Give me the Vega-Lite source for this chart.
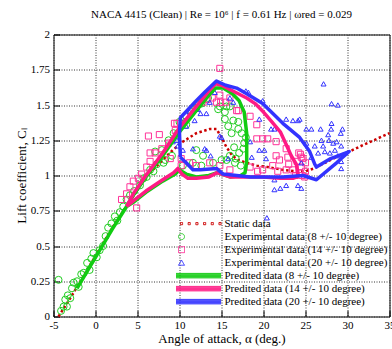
{
  "$schema": "https://vega.github.io/schema/vega-lite/v6.json",
  "width": 336,
  "height": 282,
  "autosize": {"type": "none"},
  "padding": {"left": 53.5, "top": 34.5, "right": 2.5, "bottom": 32.5},
  "background": "white",
  "title": {"text": "NACA 4415 (Clean) | Re = 10⁶ | f = 0.61 Hz | ωred = 0.029", "font": "Liberation Serif", "fontSize": 11, "fontWeight": "normal", "color": "black", "offset": 9, "anchor": "middle"},
  "config": {
    "view": {"stroke": "black", "strokeWidth": 1},
    "axis": {"labelFont": "Liberation Serif", "titleFont": "Liberation Serif", "labelFontSize": 11, "titleFontSize": 13, "titleFontWeight": "normal", "labelColor": "black", "titleColor": "black", "domain": false, "gridColor": "#333333", "gridDash": [1, 1.5], "gridOpacity": 1, "gridWidth": 1, "tickColor": "black", "tickWidth": 1}
  },
  "datasets": {
    "static": [
      {"s": "Static data", "a": -4.4, "cl": 0}, {"s": "Static data", "a": -3, "cl": 0.13}, {"s": "Static data", "a": -2, "cl": 0.23}, {"s": "Static data", "a": 0, "cl": 0.43}, {"s": "Static data", "a": 2, "cl": 0.63}, {"s": "Static data", "a": 4, "cl": 0.81}, {"s": "Static data", "a": 6, "cl": 0.99}, {"s": "Static data", "a": 8, "cl": 1.11}, {"s": "Static data", "a": 9.2, "cl": 1.18}, {"s": "Static data", "a": 10.4, "cl": 1.24}, {"s": "Static data", "a": 12, "cl": 1.3}, {"s": "Static data", "a": 13.6, "cl": 1.33}, {"s": "Static data", "a": 14.4, "cl": 1.33}, {"s": "Static data", "a": 15, "cl": 1.27}, {"s": "Static data", "a": 15.6, "cl": 1.2}, {"s": "Static data", "a": 16.3, "cl": 1.14}, {"s": "Static data", "a": 17, "cl": 1.11}, {"s": "Static data", "a": 18, "cl": 1.09}, {"s": "Static data", "a": 19.2, "cl": 1.07}, {"s": "Static data", "a": 20.5, "cl": 1.06}, {"s": "Static data", "a": 22.3, "cl": 1.04}, {"s": "Static data", "a": 24, "cl": 1.03}, {"s": "Static data", "a": 25, "cl": 1.03}, {"s": "Static data", "a": 26, "cl": 1.05}, {"s": "Static data", "a": 27, "cl": 1.08}, {"s": "Static data", "a": 28, "cl": 1.11}, {"s": "Static data", "a": 29, "cl": 1.14}, {"s": "Static data", "a": 30.4, "cl": 1.175}, {"s": "Static data", "a": 32, "cl": 1.22}, {"s": "Static data", "a": 33.5, "cl": 1.26}, {"s": "Static data", "a": 35, "cl": 1.3}
    ],
    "pred": [
      {"s": "Predited data (8 +/- 10 degree)", "i": 1, "a": -2.2, "cl": 0.2}, {"s": "Predited data (8 +/- 10 degree)", "i": 2, "a": 0, "cl": 0.42}, {"s": "Predited data (8 +/- 10 degree)", "i": 3, "a": 2, "cl": 0.62}, {"s": "Predited data (8 +/- 10 degree)", "i": 4, "a": 3.7, "cl": 0.78}, {"s": "Predited data (8 +/- 10 degree)", "i": 5, "a": 4.5, "cl": 0.86}, {"s": "Predited data (8 +/- 10 degree)", "i": 6, "a": 6, "cl": 0.99}, {"s": "Predited data (8 +/- 10 degree)", "i": 7, "a": 8, "cl": 1.14}, {"s": "Predited data (8 +/- 10 degree)", "i": 8, "a": 10, "cl": 1.31}, {"s": "Predited data (8 +/- 10 degree)", "i": 9, "a": 12, "cl": 1.46}, {"s": "Predited data (8 +/- 10 degree)", "i": 10, "a": 13.5, "cl": 1.57}, {"s": "Predited data (8 +/- 10 degree)", "i": 11, "a": 14.3, "cl": 1.62}, {"s": "Predited data (8 +/- 10 degree)", "i": 12, "a": 15.2, "cl": 1.62}, {"s": "Predited data (8 +/- 10 degree)", "i": 13, "a": 16.3, "cl": 1.58}, {"s": "Predited data (8 +/- 10 degree)", "i": 14, "a": 17.1, "cl": 1.53}, {"s": "Predited data (8 +/- 10 degree)", "i": 15, "a": 17.7, "cl": 1.45}, {"s": "Predited data (8 +/- 10 degree)", "i": 16, "a": 18, "cl": 1.3}, {"s": "Predited data (8 +/- 10 degree)", "i": 17, "a": 18, "cl": 1.1}, {"s": "Predited data (8 +/- 10 degree)", "i": 18, "a": 17.8, "cl": 1.02}, {"s": "Predited data (8 +/- 10 degree)", "i": 19, "a": 17.3, "cl": 1.0}, {"s": "Predited data (8 +/- 10 degree)", "i": 20, "a": 16, "cl": 0.99}, {"s": "Predited data (8 +/- 10 degree)", "i": 21, "a": 14.5, "cl": 1.02}, {"s": "Predited data (8 +/- 10 degree)", "i": 22, "a": 13.5, "cl": 1.0}, {"s": "Predited data (8 +/- 10 degree)", "i": 23, "a": 12, "cl": 0.99}, {"s": "Predited data (8 +/- 10 degree)", "i": 24, "a": 10.8, "cl": 1.01}, {"s": "Predited data (8 +/- 10 degree)", "i": 25, "a": 10, "cl": 1.04}, {"s": "Predited data (8 +/- 10 degree)", "i": 26, "a": 9.5, "cl": 1.01}, {"s": "Predited data (8 +/- 10 degree)", "i": 27, "a": 8, "cl": 0.96}, {"s": "Predited data (8 +/- 10 degree)", "i": 28, "a": 6, "cl": 0.88}, {"s": "Predited data (8 +/- 10 degree)", "i": 29, "a": 4.5, "cl": 0.81}, {"s": "Predited data (8 +/- 10 degree)", "i": 30, "a": 3.7, "cl": 0.78}, {"s": "Predited data (8 +/- 10 degree)", "i": 31, "a": 2, "cl": 0.62}, {"s": "Predited data (8 +/- 10 degree)", "i": 32, "a": 0, "cl": 0.42}, {"s": "Predited data (8 +/- 10 degree)", "i": 33, "a": -2.2, "cl": 0.2},
      {"s": "Predited data (14 +/- 10 degree)", "i": 1, "a": 3.7, "cl": 0.78}, {"s": "Predited data (14 +/- 10 degree)", "i": 2, "a": 4.5, "cl": 0.87}, {"s": "Predited data (14 +/- 10 degree)", "i": 3, "a": 6, "cl": 1.0}, {"s": "Predited data (14 +/- 10 degree)", "i": 4, "a": 8, "cl": 1.16}, {"s": "Predited data (14 +/- 10 degree)", "i": 5, "a": 10, "cl": 1.34}, {"s": "Predited data (14 +/- 10 degree)", "i": 6, "a": 12, "cl": 1.49}, {"s": "Predited data (14 +/- 10 degree)", "i": 7, "a": 13.5, "cl": 1.6}, {"s": "Predited data (14 +/- 10 degree)", "i": 8, "a": 14.3, "cl": 1.65}, {"s": "Predited data (14 +/- 10 degree)", "i": 9, "a": 15, "cl": 1.64}, {"s": "Predited data (14 +/- 10 degree)", "i": 10, "a": 16, "cl": 1.61}, {"s": "Predited data (14 +/- 10 degree)", "i": 11, "a": 17, "cl": 1.58}, {"s": "Predited data (14 +/- 10 degree)", "i": 12, "a": 18, "cl": 1.55}, {"s": "Predited data (14 +/- 10 degree)", "i": 13, "a": 19, "cl": 1.51}, {"s": "Predited data (14 +/- 10 degree)", "i": 14, "a": 20, "cl": 1.45}, {"s": "Predited data (14 +/- 10 degree)", "i": 15, "a": 21, "cl": 1.38}, {"s": "Predited data (14 +/- 10 degree)", "i": 16, "a": 22, "cl": 1.31}, {"s": "Predited data (14 +/- 10 degree)", "i": 17, "a": 22.7, "cl": 1.22}, {"s": "Predited data (14 +/- 10 degree)", "i": 18, "a": 23.3, "cl": 1.14}, {"s": "Predited data (14 +/- 10 degree)", "i": 19, "a": 23.9, "cl": 1.08}, {"s": "Predited data (14 +/- 10 degree)", "i": 20, "a": 24.1, "cl": 1.02}, {"s": "Predited data (14 +/- 10 degree)", "i": 21, "a": 24, "cl": 0.99}, {"s": "Predited data (14 +/- 10 degree)", "i": 22, "a": 23.5, "cl": 0.98}, {"s": "Predited data (14 +/- 10 degree)", "i": 23, "a": 22, "cl": 0.98}, {"s": "Predited data (14 +/- 10 degree)", "i": 24, "a": 20, "cl": 0.99}, {"s": "Predited data (14 +/- 10 degree)", "i": 25, "a": 18, "cl": 0.99}, {"s": "Predited data (14 +/- 10 degree)", "i": 26, "a": 16, "cl": 0.99}, {"s": "Predited data (14 +/- 10 degree)", "i": 27, "a": 14.5, "cl": 1.02}, {"s": "Predited data (14 +/- 10 degree)", "i": 28, "a": 13.5, "cl": 0.99}, {"s": "Predited data (14 +/- 10 degree)", "i": 29, "a": 12, "cl": 0.98}, {"s": "Predited data (14 +/- 10 degree)", "i": 30, "a": 11, "cl": 0.98}, {"s": "Predited data (14 +/- 10 degree)", "i": 31, "a": 10.3, "cl": 1.01}, {"s": "Predited data (14 +/- 10 degree)", "i": 32, "a": 9.8, "cl": 1.05}, {"s": "Predited data (14 +/- 10 degree)", "i": 33, "a": 9.3, "cl": 1.02}, {"s": "Predited data (14 +/- 10 degree)", "i": 34, "a": 8, "cl": 0.97}, {"s": "Predited data (14 +/- 10 degree)", "i": 35, "a": 6, "cl": 0.89}, {"s": "Predited data (14 +/- 10 degree)", "i": 36, "a": 4.5, "cl": 0.82}, {"s": "Predited data (14 +/- 10 degree)", "i": 37, "a": 3.7, "cl": 0.78},
      {"s": "Predited data (20 +/- 10 degree)", "i": 1, "a": 10.1, "cl": 1.13}, {"s": "Predited data (20 +/- 10 degree)", "i": 2, "a": 10.8, "cl": 1.09}, {"s": "Predited data (20 +/- 10 degree)", "i": 3, "a": 11.6, "cl": 1.04}, {"s": "Predited data (20 +/- 10 degree)", "i": 4, "a": 12.5, "cl": 1.04}, {"s": "Predited data (20 +/- 10 degree)", "i": 5, "a": 14.4, "cl": 1.05}, {"s": "Predited data (20 +/- 10 degree)", "i": 6, "a": 15.2, "cl": 1.01}, {"s": "Predited data (20 +/- 10 degree)", "i": 7, "a": 18.4, "cl": 0.99}, {"s": "Predited data (20 +/- 10 degree)", "i": 8, "a": 22.3, "cl": 0.99}, {"s": "Predited data (20 +/- 10 degree)", "i": 9, "a": 24.7, "cl": 1.0}, {"s": "Predited data (20 +/- 10 degree)", "i": 10, "a": 26.3, "cl": 0.97}, {"s": "Predited data (20 +/- 10 degree)", "i": 11, "a": 28.7, "cl": 1.09}, {"s": "Predited data (20 +/- 10 degree)", "i": 12, "a": 30.2, "cl": 1.17}, {"s": "Predited data (20 +/- 10 degree)", "i": 13, "a": 28, "cl": 1.12}, {"s": "Predited data (20 +/- 10 degree)", "i": 14, "a": 26.3, "cl": 1.06}, {"s": "Predited data (20 +/- 10 degree)", "i": 15, "a": 26.1, "cl": 1.08}, {"s": "Predited data (20 +/- 10 degree)", "i": 16, "a": 25.5, "cl": 1.17}, {"s": "Predited data (20 +/- 10 degree)", "i": 17, "a": 24.3, "cl": 1.27}, {"s": "Predited data (20 +/- 10 degree)", "i": 18, "a": 22.3, "cl": 1.37}, {"s": "Predited data (20 +/- 10 degree)", "i": 19, "a": 19.9, "cl": 1.51}, {"s": "Predited data (20 +/- 10 degree)", "i": 20, "a": 18, "cl": 1.58}, {"s": "Predited data (20 +/- 10 degree)", "i": 21, "a": 16.8, "cl": 1.62}, {"s": "Predited data (20 +/- 10 degree)", "i": 22, "a": 15.5, "cl": 1.64}, {"s": "Predited data (20 +/- 10 degree)", "i": 23, "a": 14.4, "cl": 1.67}, {"s": "Predited data (20 +/- 10 degree)", "i": 24, "a": 13, "cl": 1.59}, {"s": "Predited data (20 +/- 10 degree)", "i": 25, "a": 12, "cl": 1.53}, {"s": "Predited data (20 +/- 10 degree)", "i": 26, "a": 10.1, "cl": 1.41}, {"s": "Predited data (20 +/- 10 degree)", "i": 27, "a": 10, "cl": 1.3}, {"s": "Predited data (20 +/- 10 degree)", "i": 28, "a": 10.1, "cl": 1.13}
    ],
    "exp": [
      {"s": "Experimental data (8 +/- 10 degree)", "a": -4.4, "cl": 0.26}, {"s": "Experimental data (8 +/- 10 degree)", "a": -4.1, "cl": 0.04}, {"s": "Experimental data (8 +/- 10 degree)", "a": -3.8, "cl": 0.07}, {"s": "Experimental data (8 +/- 10 degree)", "a": -3.6, "cl": 0.12}, {"s": "Experimental data (8 +/- 10 degree)", "a": -3.4, "cl": 0.07}, {"s": "Experimental data (8 +/- 10 degree)", "a": -3.3, "cl": 0.15}, {"s": "Experimental data (8 +/- 10 degree)", "a": -3.0, "cl": 0.13}, {"s": "Experimental data (8 +/- 10 degree)", "a": -2.8, "cl": 0.2}, {"s": "Experimental data (8 +/- 10 degree)", "a": -2.6, "cl": 0.24}, {"s": "Experimental data (8 +/- 10 degree)", "a": -2.2, "cl": 0.25}, {"s": "Experimental data (8 +/- 10 degree)", "a": -2.0, "cl": 0.21}, {"s": "Experimental data (8 +/- 10 degree)", "a": -1.7, "cl": 0.3}, {"s": "Experimental data (8 +/- 10 degree)", "a": -1.4, "cl": 0.31}, {"s": "Experimental data (8 +/- 10 degree)", "a": -1.0, "cl": 0.38}, {"s": "Experimental data (8 +/- 10 degree)", "a": -0.7, "cl": 0.33}, {"s": "Experimental data (8 +/- 10 degree)", "a": -0.5, "cl": 0.41}, {"s": "Experimental data (8 +/- 10 degree)", "a": -0.25, "cl": 0.45}, {"s": "Experimental data (8 +/- 10 degree)", "a": 0.15, "cl": 0.42}, {"s": "Experimental data (8 +/- 10 degree)", "a": 0.5, "cl": 0.47}, {"s": "Experimental data (8 +/- 10 degree)", "a": 0.9, "cl": 0.5}, {"s": "Experimental data (8 +/- 10 degree)", "a": 1.2, "cl": 0.57}, {"s": "Experimental data (8 +/- 10 degree)", "a": 1.5, "cl": 0.63}, {"s": "Experimental data (8 +/- 10 degree)", "a": 1.9, "cl": 0.66}, {"s": "Experimental data (8 +/- 10 degree)", "a": 2.3, "cl": 0.71}, {"s": "Experimental data (8 +/- 10 degree)", "a": 2.6, "cl": 0.68}, {"s": "Experimental data (8 +/- 10 degree)", "a": 2.9, "cl": 0.74}, {"s": "Experimental data (8 +/- 10 degree)", "a": 3.3, "cl": 0.78}, {"s": "Experimental data (8 +/- 10 degree)", "a": 3.7, "cl": 0.83}, {"s": "Experimental data (8 +/- 10 degree)", "a": 4.1, "cl": 0.86}, {"s": "Experimental data (8 +/- 10 degree)", "a": 4.6, "cl": 0.89}, {"s": "Experimental data (8 +/- 10 degree)", "a": 5.3, "cl": 0.93}, {"s": "Experimental data (8 +/- 10 degree)", "a": 5.7, "cl": 0.98}, {"s": "Experimental data (8 +/- 10 degree)", "a": 6.1, "cl": 0.99}, {"s": "Experimental data (8 +/- 10 degree)", "a": 6.5, "cl": 1.04}, {"s": "Experimental data (8 +/- 10 degree)", "a": 6.9, "cl": 1.03}, {"s": "Experimental data (8 +/- 10 degree)", "a": 7.1, "cl": 1.17}, {"s": "Experimental data (8 +/- 10 degree)", "a": 7.3, "cl": 1.08}, {"s": "Experimental data (8 +/- 10 degree)", "a": 7.9, "cl": 1.18}, {"s": "Experimental data (8 +/- 10 degree)", "a": 8.1, "cl": 1.09}, {"s": "Experimental data (8 +/- 10 degree)", "a": 8.3, "cl": 1.11}, {"s": "Experimental data (8 +/- 10 degree)", "a": 8.7, "cl": 1.25}, {"s": "Experimental data (8 +/- 10 degree)", "a": 9.1, "cl": 1.14}, {"s": "Experimental data (8 +/- 10 degree)", "a": 9.3, "cl": 1.3}, {"s": "Experimental data (8 +/- 10 degree)", "a": 9.7, "cl": 1.29}, {"s": "Experimental data (8 +/- 10 degree)", "a": 10.0, "cl": 1.38}, {"s": "Experimental data (8 +/- 10 degree)", "a": 10.4, "cl": 1.07}, {"s": "Experimental data (8 +/- 10 degree)", "a": 10.8, "cl": 1.36}, {"s": "Experimental data (8 +/- 10 degree)", "a": 10.8, "cl": 1.42}, {"s": "Experimental data (8 +/- 10 degree)", "a": 11.4, "cl": 1.45}, {"s": "Experimental data (8 +/- 10 degree)", "a": 11.6, "cl": 1.09}, {"s": "Experimental data (8 +/- 10 degree)", "a": 12.0, "cl": 1.18}, {"s": "Experimental data (8 +/- 10 degree)", "a": 12.0, "cl": 1.48}, {"s": "Experimental data (8 +/- 10 degree)", "a": 12.6, "cl": 1.51}, {"s": "Experimental data (8 +/- 10 degree)", "a": 12.6, "cl": 1.07}, {"s": "Experimental data (8 +/- 10 degree)", "a": 12.8, "cl": 1.14}, {"s": "Experimental data (8 +/- 10 degree)", "a": 13.4, "cl": 1.55}, {"s": "Experimental data (8 +/- 10 degree)", "a": 14.0, "cl": 1.09}, {"s": "Experimental data (8 +/- 10 degree)", "a": 14.6, "cl": 1.47}, {"s": "Experimental data (8 +/- 10 degree)", "a": 14.8, "cl": 1.49}, {"s": "Experimental data (8 +/- 10 degree)", "a": 15.0, "cl": 1.11}, {"s": "Experimental data (8 +/- 10 degree)", "a": 15.4, "cl": 1.45}, {"s": "Experimental data (8 +/- 10 degree)", "a": 15.4, "cl": 1.4}, {"s": "Experimental data (8 +/- 10 degree)", "a": 15.6, "cl": 1.49}, {"s": "Experimental data (8 +/- 10 degree)", "a": 15.6, "cl": 1.11}, {"s": "Experimental data (8 +/- 10 degree)", "a": 15.8, "cl": 1.35}, {"s": "Experimental data (8 +/- 10 degree)", "a": 16.0, "cl": 1.49}, {"s": "Experimental data (8 +/- 10 degree)", "a": 16.0, "cl": 1.14}, {"s": "Experimental data (8 +/- 10 degree)", "a": 16.2, "cl": 1.3}, {"s": "Experimental data (8 +/- 10 degree)", "a": 16.4, "cl": 1.39}, {"s": "Experimental data (8 +/- 10 degree)", "a": 16.5, "cl": 1.2}, {"s": "Experimental data (8 +/- 10 degree)", "a": 16.6, "cl": 1.09}, {"s": "Experimental data (8 +/- 10 degree)", "a": 16.7, "cl": 1.12}, {"s": "Experimental data (8 +/- 10 degree)", "a": 17.0, "cl": 1.38}, {"s": "Experimental data (8 +/- 10 degree)", "a": 17.0, "cl": 1.33}, {"s": "Experimental data (8 +/- 10 degree)", "a": 17.1, "cl": 1.16}, {"s": "Experimental data (8 +/- 10 degree)", "a": 17.3, "cl": 1.07}, {"s": "Experimental data (8 +/- 10 degree)", "a": 17.4, "cl": 1.3}, {"s": "Experimental data (8 +/- 10 degree)", "a": 17.6, "cl": 1.19}, {"s": "Experimental data (8 +/- 10 degree)", "a": 17.7, "cl": 1.23}, {"s": "Experimental data (8 +/- 10 degree)", "a": 17.9, "cl": 1.27},
      {"s": "Experimental data (14 +/- 10 degree)", "a": 3.1, "cl": 0.83}, {"s": "Experimental data (14 +/- 10 degree)", "a": 3.7, "cl": 0.87}, {"s": "Experimental data (14 +/- 10 degree)", "a": 4.1, "cl": 0.92}, {"s": "Experimental data (14 +/- 10 degree)", "a": 4.5, "cl": 0.96}, {"s": "Experimental data (14 +/- 10 degree)", "a": 4.9, "cl": 0.77}, {"s": "Experimental data (14 +/- 10 degree)", "a": 5.1, "cl": 0.98}, {"s": "Experimental data (14 +/- 10 degree)", "a": 5.5, "cl": 1.01}, {"s": "Experimental data (14 +/- 10 degree)", "a": 6.1, "cl": 1.06}, {"s": "Experimental data (14 +/- 10 degree)", "a": 6.3, "cl": 1.28}, {"s": "Experimental data (14 +/- 10 degree)", "a": 6.5, "cl": 1.1}, {"s": "Experimental data (14 +/- 10 degree)", "a": 6.5, "cl": 1.16}, {"s": "Experimental data (14 +/- 10 degree)", "a": 7.1, "cl": 1.16}, {"s": "Experimental data (14 +/- 10 degree)", "a": 7.6, "cl": 1.29}, {"s": "Experimental data (14 +/- 10 degree)", "a": 7.9, "cl": 1.19}, {"s": "Experimental data (14 +/- 10 degree)", "a": 8.7, "cl": 1.23}, {"s": "Experimental data (14 +/- 10 degree)", "a": 8.9, "cl": 1.12}, {"s": "Experimental data (14 +/- 10 degree)", "a": 9.4, "cl": 1.37}, {"s": "Experimental data (14 +/- 10 degree)", "a": 9.5, "cl": 1.32}, {"s": "Experimental data (14 +/- 10 degree)", "a": 9.7, "cl": 1.37}, {"s": "Experimental data (14 +/- 10 degree)", "a": 10.2, "cl": 1.12}, {"s": "Experimental data (14 +/- 10 degree)", "a": 10.2, "cl": 1.07}, {"s": "Experimental data (14 +/- 10 degree)", "a": 11.2, "cl": 1.09}, {"s": "Experimental data (14 +/- 10 degree)", "a": 12.0, "cl": 1.07}, {"s": "Experimental data (14 +/- 10 degree)", "a": 12.8, "cl": 1.52}, {"s": "Experimental data (14 +/- 10 degree)", "a": 13.3, "cl": 1.54}, {"s": "Experimental data (14 +/- 10 degree)", "a": 13.6, "cl": 1.09}, {"s": "Experimental data (14 +/- 10 degree)", "a": 13.9, "cl": 1.55}, {"s": "Experimental data (14 +/- 10 degree)", "a": 14.4, "cl": 1.52}, {"s": "Experimental data (14 +/- 10 degree)", "a": 14.8, "cl": 1.57}, {"s": "Experimental data (14 +/- 10 degree)", "a": 14.8, "cl": 1.76}, {"s": "Experimental data (14 +/- 10 degree)", "a": 14.9, "cl": 1.52}, {"s": "Experimental data (14 +/- 10 degree)", "a": 14.8, "cl": 1.07}, {"s": "Experimental data (14 +/- 10 degree)", "a": 15.5, "cl": 1.52}, {"s": "Experimental data (14 +/- 10 degree)", "a": 16.0, "cl": 1.55}, {"s": "Experimental data (14 +/- 10 degree)", "a": 16.0, "cl": 1.04}, {"s": "Experimental data (14 +/- 10 degree)", "a": 16.8, "cl": 1.46}, {"s": "Experimental data (14 +/- 10 degree)", "a": 17.0, "cl": 1.46}, {"s": "Experimental data (14 +/- 10 degree)", "a": 18.4, "cl": 1.42}, {"s": "Experimental data (14 +/- 10 degree)", "a": 18.4, "cl": 1.06}, {"s": "Experimental data (14 +/- 10 degree)", "a": 19.2, "cl": 1.36}, {"s": "Experimental data (14 +/- 10 degree)", "a": 19.2, "cl": 1.26}, {"s": "Experimental data (14 +/- 10 degree)", "a": 19.3, "cl": 1.03}, {"s": "Experimental data (14 +/- 10 degree)", "a": 19.9, "cl": 1.26}, {"s": "Experimental data (14 +/- 10 degree)", "a": 19.9, "cl": 1.04}, {"s": "Experimental data (14 +/- 10 degree)", "a": 20.5, "cl": 1.26}, {"s": "Experimental data (14 +/- 10 degree)", "a": 21.1, "cl": 1.07}, {"s": "Experimental data (14 +/- 10 degree)", "a": 21.5, "cl": 1.24}, {"s": "Experimental data (14 +/- 10 degree)", "a": 21.5, "cl": 1.14}, {"s": "Experimental data (14 +/- 10 degree)", "a": 21.7, "cl": 1.03}, {"s": "Experimental data (14 +/- 10 degree)", "a": 21.9, "cl": 1.11}, {"s": "Experimental data (14 +/- 10 degree)", "a": 22.7, "cl": 1.19}, {"s": "Experimental data (14 +/- 10 degree)", "a": 22.7, "cl": 1.04}, {"s": "Experimental data (14 +/- 10 degree)", "a": 22.9, "cl": 1.13}, {"s": "Experimental data (14 +/- 10 degree)", "a": 23.0, "cl": 1.08}, {"s": "Experimental data (14 +/- 10 degree)", "a": 23.5, "cl": 1.04}, {"s": "Experimental data (14 +/- 10 degree)", "a": 24.0, "cl": 1.1}, {"s": "Experimental data (14 +/- 10 degree)", "a": 24.2, "cl": 1.16}, {"s": "Experimental data (14 +/- 10 degree)", "a": 24.3, "cl": 1.02}, {"s": "Experimental data (14 +/- 10 degree)", "a": 24.4, "cl": 1.15}, {"s": "Experimental data (14 +/- 10 degree)", "a": 24.5, "cl": 1.13}, {"s": "Experimental data (14 +/- 10 degree)", "a": 24.5, "cl": 1.06}, {"s": "Experimental data (14 +/- 10 degree)", "a": 24.6, "cl": 1.0}, {"s": "Experimental data (14 +/- 10 degree)", "a": 24.7, "cl": 1.12}, {"s": "Experimental data (14 +/- 10 degree)", "a": 25.0, "cl": 1.09}, {"s": "Experimental data (14 +/- 10 degree)", "a": 25.0, "cl": 1.03}, {"s": "Experimental data (14 +/- 10 degree)", "a": 24.9, "cl": 0.99}, {"s": "Experimental data (14 +/- 10 degree)", "a": 23.8, "cl": 1.0},
      {"s": "Experimental data (20 +/- 10 degree)", "a": 9.2, "cl": 1.24}, {"s": "Experimental data (20 +/- 10 degree)", "a": 9.7, "cl": 1.25}, {"s": "Experimental data (20 +/- 10 degree)", "a": 9.8, "cl": 1.21}, {"s": "Experimental data (20 +/- 10 degree)", "a": 10.4, "cl": 1.18}, {"s": "Experimental data (20 +/- 10 degree)", "a": 10.6, "cl": 1.39}, {"s": "Experimental data (20 +/- 10 degree)", "a": 10.8, "cl": 1.35}, {"s": "Experimental data (20 +/- 10 degree)", "a": 11.2, "cl": 1.45}, {"s": "Experimental data (20 +/- 10 degree)", "a": 11.6, "cl": 1.19}, {"s": "Experimental data (20 +/- 10 degree)", "a": 11.8, "cl": 1.39}, {"s": "Experimental data (20 +/- 10 degree)", "a": 12.2, "cl": 1.47}, {"s": "Experimental data (20 +/- 10 degree)", "a": 12.5, "cl": 1.44}, {"s": "Experimental data (20 +/- 10 degree)", "a": 13.0, "cl": 1.19}, {"s": "Experimental data (20 +/- 10 degree)", "a": 13.2, "cl": 1.44}, {"s": "Experimental data (20 +/- 10 degree)", "a": 13.2, "cl": 1.18}, {"s": "Experimental data (20 +/- 10 degree)", "a": 13.6, "cl": 1.52}, {"s": "Experimental data (20 +/- 10 degree)", "a": 13.7, "cl": 1.14}, {"s": "Experimental data (20 +/- 10 degree)", "a": 14.2, "cl": 1.59}, {"s": "Experimental data (20 +/- 10 degree)", "a": 14.8, "cl": 1.28}, {"s": "Experimental data (20 +/- 10 degree)", "a": 15.0, "cl": 1.27}, {"s": "Experimental data (20 +/- 10 degree)", "a": 15.8, "cl": 1.12}, {"s": "Experimental data (20 +/- 10 degree)", "a": 16.0, "cl": 1.55}, {"s": "Experimental data (20 +/- 10 degree)", "a": 16.4, "cl": 1.52}, {"s": "Experimental data (20 +/- 10 degree)", "a": 17.9, "cl": 1.6}, {"s": "Experimental data (20 +/- 10 degree)", "a": 18.2, "cl": 1.59}, {"s": "Experimental data (20 +/- 10 degree)", "a": 18.4, "cl": 1.24}, {"s": "Experimental data (20 +/- 10 degree)", "a": 18.6, "cl": 1.13}, {"s": "Experimental data (20 +/- 10 degree)", "a": 19.5, "cl": 1.4}, {"s": "Experimental data (20 +/- 10 degree)", "a": 19.5, "cl": 1.18}, {"s": "Experimental data (20 +/- 10 degree)", "a": 19.9, "cl": 1.53}, {"s": "Experimental data (20 +/- 10 degree)", "a": 20.1, "cl": 1.18}, {"s": "Experimental data (20 +/- 10 degree)", "a": 20.3, "cl": 1.12}, {"s": "Experimental data (20 +/- 10 degree)", "a": 20.4, "cl": 0.7}, {"s": "Experimental data (20 +/- 10 degree)", "a": 20.9, "cl": 1.33}, {"s": "Experimental data (20 +/- 10 degree)", "a": 21.3, "cl": 1.33}, {"s": "Experimental data (20 +/- 10 degree)", "a": 21.3, "cl": 0.97}, {"s": "Experimental data (20 +/- 10 degree)", "a": 21.3, "cl": 0.9}, {"s": "Experimental data (20 +/- 10 degree)", "a": 22.0, "cl": 0.91}, {"s": "Experimental data (20 +/- 10 degree)", "a": 22.7, "cl": 1.4}, {"s": "Experimental data (20 +/- 10 degree)", "a": 22.7, "cl": 0.93}, {"s": "Experimental data (20 +/- 10 degree)", "a": 23.5, "cl": 1.39}, {"s": "Experimental data (20 +/- 10 degree)", "a": 24.1, "cl": 1.39}, {"s": "Experimental data (20 +/- 10 degree)", "a": 24.1, "cl": 0.93}, {"s": "Experimental data (20 +/- 10 degree)", "a": 24.3, "cl": 1.4}, {"s": "Experimental data (20 +/- 10 degree)", "a": 24.5, "cl": 0.91}, {"s": "Experimental data (20 +/- 10 degree)", "a": 24.5, "cl": 1.09}, {"s": "Experimental data (20 +/- 10 degree)", "a": 25.1, "cl": 1.33}, {"s": "Experimental data (20 +/- 10 degree)", "a": 25.1, "cl": 1.23}, {"s": "Experimental data (20 +/- 10 degree)", "a": 25.7, "cl": 1.33}, {"s": "Experimental data (20 +/- 10 degree)", "a": 25.7, "cl": 1.13}, {"s": "Experimental data (20 +/- 10 degree)", "a": 26.1, "cl": 1.21}, {"s": "Experimental data (20 +/- 10 degree)", "a": 26.5, "cl": 1.16}, {"s": "Experimental data (20 +/- 10 degree)", "a": 26.8, "cl": 1.33}, {"s": "Experimental data (20 +/- 10 degree)", "a": 26.9, "cl": 1.25}, {"s": "Experimental data (20 +/- 10 degree)", "a": 27.1, "cl": 1.21}, {"s": "Experimental data (20 +/- 10 degree)", "a": 27.15, "cl": 1.65}, {"s": "Experimental data (20 +/- 10 degree)", "a": 27.3, "cl": 1.17}, {"s": "Experimental data (20 +/- 10 degree)", "a": 27.7, "cl": 1.29}, {"s": "Experimental data (20 +/- 10 degree)", "a": 27.8, "cl": 1.25}, {"s": "Experimental data (20 +/- 10 degree)", "a": 27.9, "cl": 1.16}, {"s": "Experimental data (20 +/- 10 degree)", "a": 28.05, "cl": 1.33}, {"s": "Experimental data (20 +/- 10 degree)", "a": 28.1, "cl": 1.51}, {"s": "Experimental data (20 +/- 10 degree)", "a": 28.1, "cl": 1.37}, {"s": "Experimental data (20 +/- 10 degree)", "a": 28.3, "cl": 1.23}, {"s": "Experimental data (20 +/- 10 degree)", "a": 28.5, "cl": 1.18}, {"s": "Experimental data (20 +/- 10 degree)", "a": 28.7, "cl": 1.24}, {"s": "Experimental data (20 +/- 10 degree)", "a": 28.85, "cl": 1.5}, {"s": "Experimental data (20 +/- 10 degree)", "a": 28.85, "cl": 1.14}, {"s": "Experimental data (20 +/- 10 degree)", "a": 29.2, "cl": 1.3}, {"s": "Experimental data (20 +/- 10 degree)", "a": 29.25, "cl": 1.21}, {"s": "Experimental data (20 +/- 10 degree)", "a": 29.25, "cl": 1.1}, {"s": "Experimental data (20 +/- 10 degree)", "a": 29.25, "cl": 1.05}, {"s": "Experimental data (20 +/- 10 degree)", "a": 29.4, "cl": 1.33}
    ]
  },
  "encoding": {
    "x": {"field": "a", "type": "quantitative", "scale": {"domain": [-5, 35], "nice": false, "zero": false},
      "axis": {"orient": "bottom", "values": [-5, 0, 5, 10, 15, 20, 25, 30, 35], "labelExpr": "'' + datum.value", "ticks": true, "tickSize": -6, "labelPadding": 9, "grid": true, "domain": false, "title": "Angle of attack, α (deg.)", "titlePadding": 2, "labelFlush": false, "labelOverlap": false, "labelBound": false}},
    "y": {"field": "cl", "type": "quantitative", "scale": {"domain": [0, 2], "nice": false, "zero": false},
      "axis": {"orient": "left", "values": [0, 0.25, 0.5, 0.75, 1, 1.25, 1.5, 1.75, 2], "labelExpr": "'' + datum.value", "ticks": true, "tickSize": -6, "labelPadding": 10, "grid": true, "domain": false, "title": "Lift coefficient, Cₗ", "titlePadding": 2, "labelFlush": false, "labelOverlap": false}},
    "color": {
      "field": "s",
      "type": "nominal",
      "scale": {
        "domain": ["Static data", "Experimental data (8 +/- 10 degree)", "Experimental data (14 +/- 10 degree)", "Experimental data (20 +/- 10 degree)", "Predited data (8 +/- 10 degree)", "Predited data (14 +/- 10 degree)", "Predited data (20 +/- 10 degree)"],
        "range": ["#cc0000", "#22cc22", "#ff3399", "#3333ff", "#11cc11", "#ff1a85", "#3333ff"]
      },
      "legend": {
        "title": null,
        "orient": "none",
        "legendX": 122.5,
        "legendY": 183,
        "direction": "vertical",
        "columns": 1,
        "padding": 0,
        "symbolSize": 36,
        "symbolStrokeWidth": 1,
        "symbolDash": [1, 0],
        "labelOffset": 37.5,
        "rowPadding": 0,
        "clipHeight": 12.3,
        "labelLimit": 300,
        "labelFont": "Liberation Serif",
        "labelFontSize": 11,
        "labelColor": "black"
      }
    }
  },
  "layer": [
    {
      "data": {"name": "static"},
      "mark": {"type": "line", "strokeDash": [2.5, 2.5], "strokeWidth": 2.5, "strokeCap": "butt"}
    },
    {
      "data": {"name": "exp"},
      "mark": {"type": "point", "filled": false, "strokeWidth": 1, "opacity": 1},
      "encoding": {
        "shape": {
          "field": "s",
          "type": "nominal",
          "scale": {
            "domain": ["Static data", "Experimental data (8 +/- 10 degree)", "Experimental data (14 +/- 10 degree)", "Experimental data (20 +/- 10 degree)", "Predited data (8 +/- 10 degree)", "Predited data (14 +/- 10 degree)", "Predited data (20 +/- 10 degree)"],
            "range": [
              "M-13.2,-0.36h0.72v0.72h-0.72zM-10.63,-0.36h0.72v0.72h-0.72zM-8.06,-0.36h0.72v0.72h-0.72zM-5.5,-0.36h0.72v0.72h-0.72zM-2.93,-0.36h0.72v0.72h-0.72zM-0.36,-0.36h0.72v0.72h-0.72zM2.21,-0.36h0.72v0.72h-0.72zM4.78,-0.36h0.72v0.72h-0.72zM7.34,-0.36h0.72v0.72h-0.72zM9.91,-0.36h0.72v0.72h-0.72zM12.48,-0.36h0.72v0.72h-0.72z",
              "circle",
              "square",
              "triangle-up",
              "M-13.2,-0.75H13.2M-13.2,-0.5H13.2M-13.2,-0.25H13.2M-13.2,0H13.2M-13.2,0.25H13.2M-13.2,0.5H13.2M-13.2,0.75H13.2",
              "M-13.2,-0.75H13.2M-13.2,-0.5H13.2M-13.2,-0.25H13.2M-13.2,0H13.2M-13.2,0.25H13.2M-13.2,0.5H13.2M-13.2,0.75H13.2",
              "M-13.2,-0.75H13.2M-13.2,-0.5H13.2M-13.2,-0.25H13.2M-13.2,0H13.2M-13.2,0.25H13.2M-13.2,0.5H13.2M-13.2,0.75H13.2"
            ]
          },
          "legend": {
            "title": null,
            "orient": "none",
            "legendX": 122.5,
            "legendY": 183,
            "direction": "vertical",
            "columns": 1,
            "padding": 0,
            "symbolSize": 36,
            "symbolStrokeWidth": 1,
            "symbolDash": [1, 0],
            "labelOffset": 37.5,
            "rowPadding": 0,
            "clipHeight": 12.3,
            "labelLimit": 300,
            "labelFont": "Liberation Serif",
            "labelFontSize": 11,
            "labelColor": "black"
          }
        },
        "size": {"field": "s", "type": "nominal", "scale": {"domain": ["Experimental data (8 +/- 10 degree)", "Experimental data (14 +/- 10 degree)", "Experimental data (20 +/- 10 degree)"], "range": [49, 25, 36]}, "legend": null}
      }
    },
    {
      "data": {"name": "pred"},
      "mark": {"type": "line", "strokeWidth": 3.5, "strokeJoin": "round"},
      "encoding": {
        "order": {"field": "i", "type": "quantitative"}
      }
    }
  ]
}
